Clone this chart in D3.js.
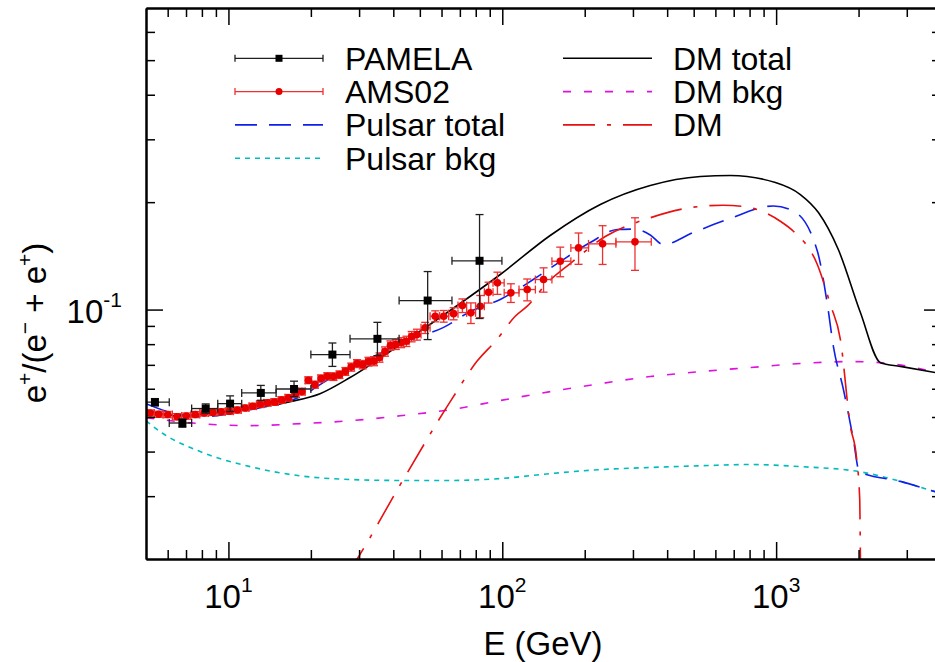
<!DOCTYPE html>
<html>
<head>
<meta charset="utf-8">
<script src="https://cdn.jsdelivr.net/npm/d3@7/dist/d3.min.js"></script>
<style>
  html, body { margin: 0; padding: 0; background: #fff; }
  svg text { font-family: "Liberation Sans", Arial, Helvetica, sans-serif; fill: #000; }
</style>
</head>
<body>
<svg id="chart" width="935" height="662"></svg>
<script>
// ---------- data ----------
// PAMELA positron fraction: bin centre, bin edges, value, errors
const pamelaE   = [5.39, 6.79, 8.26, 10.14, 13.13, 17.36, 23.97, 35.0, 53.4, 82.6];
const pamelaLo  = [4.6, 6.08, 7.34, 9.14, 11.18, 14.93, 20.0, 27.8, 42.0, 65.5];
const pamelaHi  = [6.08, 7.34, 9.14, 11.18, 14.93, 20.0, 27.8, 42.0, 65.5, 99.7];
const pamelaF   = [0.0550, 0.0481, 0.0528, 0.0545, 0.0584, 0.0599, 0.0748, 0.0828, 0.106, 0.137];
const pamelaDn  = [0.0013, 0.0013, 0.0016, 0.0027, 0.0027, 0.0029, 0.0055, 0.0085, 0.0236, 0.0426];
const pamelaUp  = [0.0013, 0.0013, 0.0016, 0.0028, 0.0029, 0.0031, 0.0058, 0.0093, 0.0218, 0.0476];

// AMS-02 positron fraction
const amsE  = [5.177, 5.561, 6.000, 6.490, 7.015, 7.570, 8.155, 8.769, 9.409, 10.079,
               10.779, 11.509, 12.269, 13.059, 13.884, 14.743, 15.639, 16.568, 17.538, 18.543,
               19.588, 20.678, 21.803, 22.967, 24.177, 25.432, 26.736, 28.087, 29.482, 30.936,
               32.446, 34.006, 35.626, 37.305, 39.045, 40.849, 42.720, 44.659, 46.669,
               48.8, 52.3, 56.9, 61.1, 66.4, 71.5, 76.8, 83.1, 89.1, 96.0,
               107.5, 123.3, 141.5, 162.8, 189.9, 232.4, 305.2];
const amsLo = [5.00, 5.36, 5.77, 6.24, 6.75, 7.29, 7.86, 8.46, 9.09, 9.74,
               10.43, 11.14, 11.89, 12.66, 13.47, 14.31, 15.19, 16.10, 17.05, 18.04,
               19.06, 20.13, 21.24, 22.38, 23.57, 24.80, 26.08, 27.41, 28.78, 30.20,
               31.69, 33.22, 34.81, 36.46, 38.17, 39.94, 41.78, 43.68, 45.66,
               47.70, 50.5, 54.5, 59.0, 63.7, 68.9, 74.1, 79.9, 86.0, 92.5,
               101.6, 115.1, 132.1, 151.8, 178.0, 206.5, 260.0];
const amsHi = [5.36, 5.77, 6.24, 6.75, 7.29, 7.86, 8.46, 9.09, 9.74, 10.43,
               11.14, 11.89, 12.66, 13.47, 14.31, 15.19, 16.10, 17.05, 18.04, 19.06,
               20.13, 21.24, 22.38, 23.57, 24.80, 26.08, 27.41, 28.78, 30.20, 31.69,
               33.22, 34.81, 36.46, 38.17, 39.94, 41.78, 43.68, 45.66, 47.70,
               50.5, 54.5, 59.0, 63.7, 68.9, 74.1, 79.9, 86.0, 92.5, 101.6,
               115.1, 132.1, 151.8, 178.0, 206.5, 260.0, 350.0];
const amsF  = [0.0513, 0.0509, 0.0508, 0.0501, 0.0503, 0.0508, 0.0513, 0.0515, 0.0517, 0.0519,
               0.0523, 0.0530, 0.0536, 0.0543, 0.0548, 0.0551, 0.0558, 0.0566, 0.0581, 0.0589,
               0.0634, 0.0616, 0.0641, 0.0650, 0.0649, 0.0657, 0.0671, 0.0690, 0.0706, 0.0701,
               0.0715, 0.0717, 0.0734, 0.0763, 0.0793, 0.0798, 0.0808, 0.0815, 0.0840,
               0.0851, 0.0889, 0.0958, 0.0958, 0.0974, 0.1026, 0.0979, 0.1022, 0.1118, 0.1188,
               0.1114, 0.1138, 0.1214, 0.1366, 0.1489, 0.1528, 0.1548];
const amsErr = [0.0010, 0.0010, 0.0010, 0.0010, 0.0010, 0.0010, 0.0010, 0.0010, 0.0010, 0.0010,
                0.0010, 0.0010, 0.0010, 0.0011, 0.0011, 0.0012, 0.0012, 0.0012, 0.0013, 0.0013,
                0.0014, 0.0014, 0.0015, 0.0015, 0.0016, 0.0016, 0.0017, 0.0018, 0.0018, 0.0019,
                0.0020, 0.0021, 0.0022, 0.0023, 0.0024, 0.0025, 0.0026, 0.0027, 0.0028,
                0.0030, 0.0032, 0.0034, 0.0036, 0.0038, 0.0045, 0.0065, 0.0073, 0.0075, 0.0085,
                0.0067, 0.0080, 0.0095, 0.0130, 0.0150, 0.0190, 0.0260];

// Model curves: [E (GeV), e+/(e- + e+)]
const dmTotal = [[5.0,0.0524],[6.38,0.0504],[8.57,0.0511],[12.0,0.0528],[16.8,0.0552],[21.6,0.0581],
  [27.8,0.0645],[42.4,0.0798],[64.5,0.0994],[98.3,0.1254],[149.6,0.1613],[228,0.1970],[347,0.2227],
  [529,0.2360],[680,0.2376],[994,0.2270],[1226,0.2101],[1427,0.1870],[1687,0.1473],[2031,0.0981],
  [2403,0.0710],[2843,0.0693],[4000,0.0662]];
const dmBkg = [[5.0,0.0498],[7.88,0.0479],[12.0,0.0473],[18.3,0.0479],[27.8,0.0488],[42.4,0.0504],
  [64.5,0.0524],[98.3,0.0556],[149.6,0.0589],[228,0.0620],[347,0.0649],[529,0.0670],[805,0.0688],
  [1226,0.0706],[1867,0.0715],[2403,0.0710],[4000,0.0662]];
const dmSignal = [[27.0,0.0180],[29.75,0.0202],[42.4,0.0323],[65.6,0.0563],[80.8,0.0716],[95.5,0.0824],
  [111.5,0.0958],[123.3,0.1022],[145.9,0.1188],[177,0.1346],[237.7,0.1602],[347,0.1808],[498,0.1936],
  [641,0.1961],[786,0.1936],[1036,0.1768],[1156,0.1658],[1414,0.1337],[1578,0.1033],[1717,0.0824],
  [1867,0.0471],[1963,0.0388],[2020,0.0293],[2031,0.0203],[2040,0.0150]];
const pulsarTotal = [[5.0,0.0545],[6.38,0.0511],[7.88,0.0501],[12.0,0.0524],[18.3,0.0570],[24.1,0.0649],
  [32.1,0.0724],[46.1,0.0824],[60.8,0.0890],[76.3,0.0987],[98.3,0.1067],[129.7,0.1214],[162.7,0.1363],
  [209.5,0.1541],[262.9,0.1676],[303.4,0.1681],[347,0.1618],[387.3,0.1521],[498.3,0.1644],[663.5,0.1788],
  [976.9,0.1951],[1156,0.1889],[1414,0.1459],[1539,0.1033],[1619,0.0787],[1761,0.0597],[1915,0.0432],
  [2014,0.0351],[2843,0.0330],[4000,0.0305]];
const pulsarBkg = [[5.0,0.0488],[5.63,0.0455],[7.88,0.0400],[12.0,0.0363],[18.3,0.0342],[27.8,0.0334],
  [42.4,0.0332],[64.5,0.0332],[98.3,0.0336],[149.6,0.0347],[228,0.0356],[347,0.0361],[529,0.0365],
  [805,0.0368],[1226,0.0363],[2031,0.0351],[2843,0.0330],[4000,0.0305]];

// axis ticks
const xMajor = [10, 100, 1000];
const xMinor = [6, 7, 8, 9, 20, 30, 40, 50, 60, 70, 80, 90, 200, 300, 400, 500, 600, 700, 800, 900, 2000, 3000];
const yMajor = [0.1];
const yMinor = [0.03, 0.04, 0.05, 0.06, 0.07, 0.08, 0.09, 0.2, 0.3, 0.4, 0.5, 0.6];
const xTickExp = ["1", "2", "3"];
const yTickExp = ["-1"];

// ---------- layout ----------
const svg = d3.select("#chart");
const pLeft = 146, pRight = 941, pTop = 8, pBottom = 559;
const x = d3.scaleLog().domain([5, 4000]).range([pLeft, pRight]);
const y = d3.scaleLog().domain([0.02, 0.7]).range([pBottom, pTop]);
const FONT = 33, LEGFONT = 32, SUP = 21;

svg.append("defs").append("clipPath").attr("id", "plotclip")
  .append("rect").attr("x", pLeft).attr("y", pTop).attr("width", pRight - pLeft).attr("height", pBottom - pTop);

const plot = svg.append("g").attr("clip-path", "url(#plotclip)");

// ---------- curves ----------
const line = d3.line().x(d => x(d[0])).y(d => y(d[1])).curve(d3.curveMonotoneX);
const curves = [
  { data: pulsarBkg,   color: "#00bcbc", dash: "5,5" },
  { data: dmBkg,       color: "#e010e0", dash: "8,13" },
  { data: pulsarTotal, color: "#1020e8", dash: "22,12" },
  { data: dmSignal,    color: "#e81010", dash: "32,12,4,12" },
  { data: dmTotal,     color: "#000000", dash: null }
];
curves.forEach(c => {
  plot.append("path").attr("d", line(c.data)).attr("fill", "none")
    .attr("stroke", c.color).attr("stroke-width", 1.6)
    .attr("stroke-dasharray", c.dash);
});

// ---------- data points ----------
const cap = 4;
function errorBars(g, xs, lo, hi, ys, dn, up, color, width) {
  xs.forEach((e, i) => {
    const cx = x(e), cy = y(ys[i]);
    const x0 = x(lo[i]), x1 = x(hi[i]);
    const y0 = y(ys[i] - dn[i]), y1 = y(ys[i] + up[i]);
    g.append("line").attr("x1", x0).attr("x2", x1).attr("y1", cy).attr("y2", cy);
    g.append("line").attr("x1", x0).attr("x2", x0).attr("y1", cy - cap).attr("y2", cy + cap);
    g.append("line").attr("x1", x1).attr("x2", x1).attr("y1", cy - cap).attr("y2", cy + cap);
    g.append("line").attr("x1", cx).attr("x2", cx).attr("y1", y0).attr("y2", y1);
    g.append("line").attr("x1", cx - cap).attr("x2", cx + cap).attr("y1", y0).attr("y2", y0);
    g.append("line").attr("x1", cx - cap).attr("x2", cx + cap).attr("y1", y1).attr("y2", y1);
  });
  g.attr("stroke", color).attr("stroke-width", width);
}

const amsG = plot.append("g");
errorBars(amsG.append("g"), amsE, amsLo, amsHi, amsF, amsErr, amsErr, "#ee3030", 1.3);
amsG.selectAll("circle").data(amsE).join("circle")
  .attr("cx", d => x(d)).attr("cy", (d, i) => y(amsF[i])).attr("r", 3.8).attr("fill", "#e80000");

const pamG = plot.append("g");
errorBars(pamG.append("g"), pamelaE, pamelaLo, pamelaHi, pamelaF, pamelaDn, pamelaUp, "#202020", 1.3);
pamG.selectAll("rect").data(pamelaE).join("rect")
  .attr("x", d => x(d) - 4).attr("y", (d, i) => y(pamelaF[i]) - 4)
  .attr("width", 8).attr("height", 8).attr("fill", "#000");

// ---------- axes ----------
function styleAxis(g) {
  g.selectAll("path.domain").attr("stroke", "#000").attr("stroke-width", 2);
  g.selectAll(".tick line").attr("stroke", "#000").attr("stroke-width", 1.5);
  g.selectAll(".tick text").remove();
}
const axes = svg.append("g");
[[d3.axisBottom, pBottom], [d3.axisTop, pTop]].forEach(([fn, pos]) => {
  axes.append("g").attr("transform", `translate(0,${pos})`)
    .call(fn(x).tickValues(xMinor).tickSize(-9).tickSizeOuter(0).tickFormat("")).call(styleAxis);
  axes.append("g").attr("transform", `translate(0,${pos})`)
    .call(fn(x).tickValues(xMajor).tickSize(-17).tickSizeOuter(0).tickFormat("")).call(styleAxis);
});
[[d3.axisLeft, pLeft], [d3.axisRight, pRight]].forEach(([fn, pos]) => {
  axes.append("g").attr("transform", `translate(${pos},0)`)
    .call(fn(y).tickValues(yMinor).tickSize(-9).tickSizeOuter(0).tickFormat("")).call(styleAxis);
  axes.append("g").attr("transform", `translate(${pos},0)`)
    .call(fn(y).tickValues(yMajor).tickSize(-17).tickSizeOuter(0).tickFormat("")).call(styleAxis);
});

// tick labels as powers of ten
xMajor.forEach((v, i) => {
  const t = svg.append("text").attr("x", x(v)).attr("y", 608).attr("text-anchor", "middle")
    .attr("font-size", FONT);
  t.append("tspan").text("10");
  t.append("tspan").attr("dy", -16).attr("font-size", SUP).text(xTickExp[i]);
});
yMajor.forEach((v, i) => {
  const t = svg.append("text").attr("x", 122).attr("y", y(v) + 13).attr("text-anchor", "end")
    .attr("font-size", FONT);
  t.append("tspan").text("10");
  t.append("tspan").attr("dy", -16).attr("font-size", SUP).text(yTickExp[i]);
});

// axis titles
svg.append("text").attr("x", 543).attr("y", 655).attr("text-anchor", "middle")
  .attr("font-size", FONT).text("E (GeV)");
const yt = svg.append("text").attr("transform", "translate(46,323) rotate(-90)")
  .attr("text-anchor", "middle").attr("font-size", FONT);
yt.append("tspan").text("e");
yt.append("tspan").attr("dy", -14).attr("font-size", SUP).text("+");
yt.append("tspan").attr("dy", 14).text("/(e");
yt.append("tspan").attr("dy", -14).attr("font-size", SUP).text("\u2212");
yt.append("tspan").attr("dy", 14).text(" + e");
yt.append("tspan").attr("dy", -14).attr("font-size", SUP).text("+");
yt.append("tspan").attr("dy", 14).text(")");

// ---------- legend ----------
const legLeft = [
  { label: "PAMELA", kind: "pamela" },
  { label: "AMS02", kind: "ams" },
  { label: "Pulsar total", kind: "line", color: "#1020e8", dash: "22,12" },
  { label: "Pulsar bkg", kind: "line", color: "#00bcbc", dash: "5,5" }
];
const legRight = [
  { label: "DM total", kind: "line", color: "#000000", dash: null },
  { label: "DM bkg", kind: "line", color: "#e010e0", dash: "8,13" },
  { label: "DM", kind: "line", color: "#e81010", dash: "32,12,4,12" }
];
function legend(items, x0, x1, tx) {
  items.forEach((it, i) => {
    const ly = 58.3 + i * 33.3;
    const g = svg.append("g");
    if (it.kind === "line") {
      g.append("line").attr("x1", x0).attr("x2", x1).attr("y1", ly).attr("y2", ly)
        .attr("stroke", it.color).attr("stroke-width", 1.6).attr("stroke-dasharray", it.dash);
    } else {
      const col = it.kind === "pamela" ? "#202020" : "#ee3030";
      g.append("line").attr("x1", x0).attr("x2", x1).attr("y1", ly).attr("y2", ly)
        .attr("stroke", col).attr("stroke-width", 1.3);
      [x0, x1].forEach(xx => g.append("line").attr("x1", xx).attr("x2", xx)
        .attr("y1", ly - 3.5).attr("y2", ly + 3.5).attr("stroke", col).attr("stroke-width", 1.3));
      const mx = (x0 + x1) / 2;
      if (it.kind === "pamela") {
        g.append("rect").attr("x", mx - 3.5).attr("y", ly - 3.5).attr("width", 7).attr("height", 7).attr("fill", "#000");
      } else {
        g.append("circle").attr("cx", mx).attr("cy", ly).attr("r", 3.5).attr("fill", "#e80000");
      }
    }
    g.append("text").attr("x", tx).attr("y", ly + 11.3).attr("font-size", LEGFONT).text(it.label);
  });
}
legend(legLeft, 235, 323, 345);
legend(legRight, 563, 652, 673);
</script>
</body>
</html>
